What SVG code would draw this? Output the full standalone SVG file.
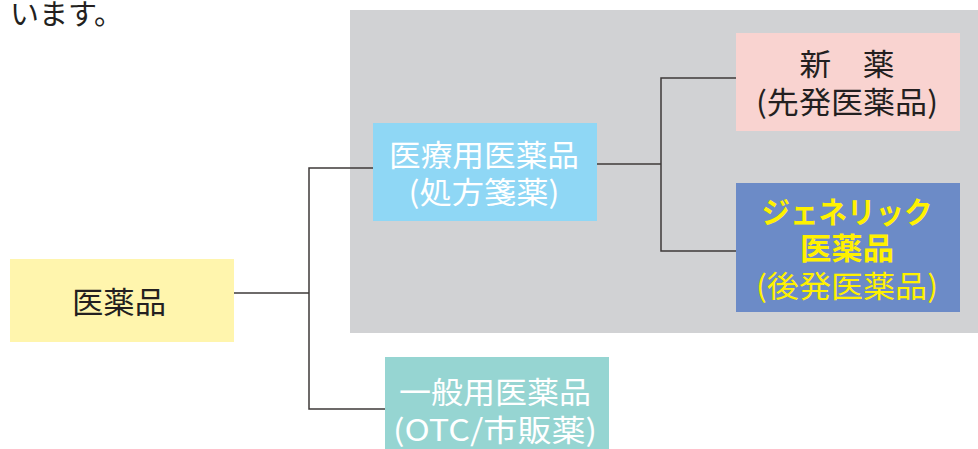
<svg xmlns="http://www.w3.org/2000/svg" width="978" height="449" viewBox="0 0 978 449">
<style>
text{font-family:"Noto Sans CJK JP","Noto Sans CJK SC",sans-serif;font-size:30px;text-anchor:middle;dominant-baseline:central}
.dk{fill:#231f20}
.wh{fill:#ffffff}
.yl{fill:#fff100}
.b{font-weight:bold}
.ln{stroke:#3e3a39;stroke-width:1.5;fill:none}
</style>
<rect width="978" height="449" fill="#ffffff"/>
<text class="dk" x="10" y="12" style="text-anchor:start;font-size:29px">います。</text>
<rect id="panel" x="350" y="10" width="628" height="323" fill="#d1d2d4"/>
<g id="connectors">
<polyline class="ln" points="234,293 309,293"/>
<polyline class="ln" points="373,168 309,168 309,409 385,409"/>
<polyline class="ln" points="597,164 661,164"/>
<polyline class="ln" points="736,78 661,78 661,251 736,251"/>
</g>
<g id="iyakuhin">
<rect x="10" y="259" width="224" height="83" fill="#fff5ad"/>
<text class="dk" x="119" y="300" textLength="94" lengthAdjust="spacingAndGlyphs">医薬品</text>
</g>
<g id="iryouyou">
<rect x="373" y="123" width="224" height="98" fill="#8fd7f5"/>
<text class="wh" x="484" y="153" textLength="190" lengthAdjust="spacingAndGlyphs">医療用医薬品</text>
<text class="wh" x="484" y="190" textLength="151" lengthAdjust="spacingAndGlyphs">(処方箋薬)</text>
</g>
<g id="ippanyou">
<rect x="385" y="357" width="224" height="92" fill="#96d5d2"/>
<text class="wh" x="495" y="390" textLength="192" lengthAdjust="spacingAndGlyphs">一般用医薬品</text>
<text class="wh" x="495" y="428" textLength="204" lengthAdjust="spacingAndGlyphs">(OTC/市販薬)</text>
</g>
<g id="shinyaku">
<rect x="736" y="33" width="224" height="98" fill="#f9d3d0"/>
<text class="dk" x="847" y="62" textLength="95" lengthAdjust="spacingAndGlyphs">新　薬</text>
<text class="dk" x="847" y="100" textLength="182" lengthAdjust="spacingAndGlyphs">(先発医薬品)</text>
</g>
<g id="generic">
<rect x="736" y="183" width="224" height="129" fill="#6c8bc7"/>
<text class="yl b" x="847" y="210" textLength="171" lengthAdjust="spacingAndGlyphs">ジェネリック</text>
<text class="yl b" x="847" y="246" textLength="94" lengthAdjust="spacingAndGlyphs">医薬品</text>
<text class="yl" x="847" y="284" textLength="182" lengthAdjust="spacingAndGlyphs">(後発医薬品)</text>
</g>
</svg>
